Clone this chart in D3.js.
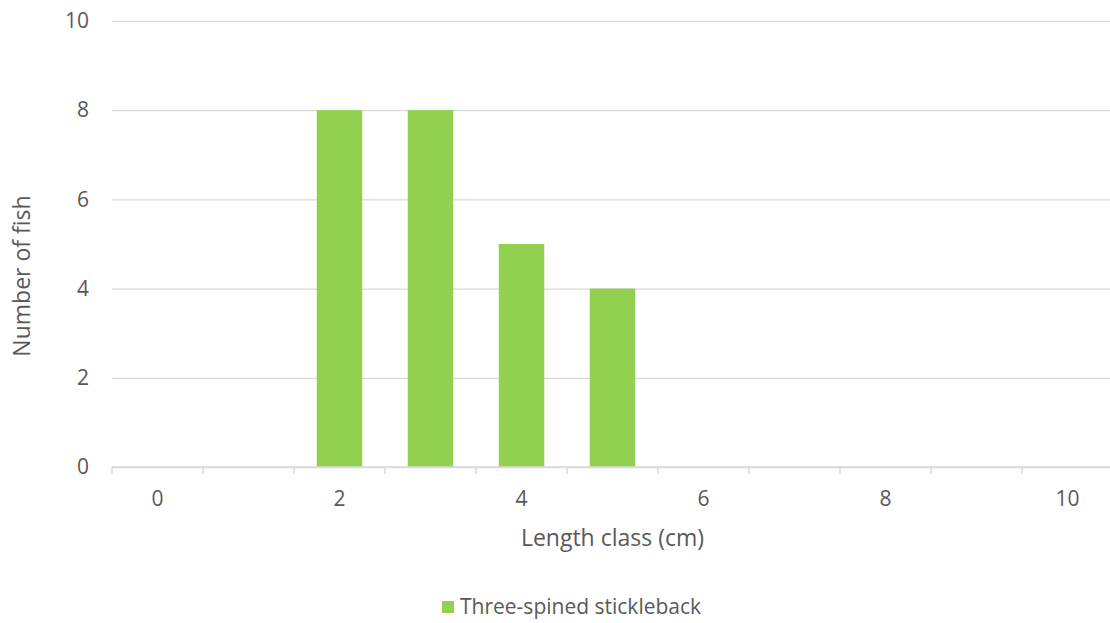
<!DOCTYPE html>
<html>
<head>
<meta charset="utf-8">
<script src="https://cdn.jsdelivr.net/npm/d3@7"></script>
<style>
  html, body { margin: 0; padding: 0; background: #fff; }
  svg { display: block; }
  text { font-family: "Open Sans", "Noto Sans", sans-serif; fill: #595959; }
</style>
</head>
<body>
<svg id="chart" width="1110" height="623"></svg>
<script>
// Length classes (cm) and counts of fish in each class
const lengthClasses = [0, 1, 2, 3, 4, 5, 6, 7, 8, 9, 10];
const fishCounts = [0, 0, 8, 8, 5, 4, 0, 0, 0, 0, 0];
const yTicks = [0, 2, 4, 6, 8, 10];
const xLabelClasses = [0, 2, 4, 6, 8, 10];
const seriesName = "Three-spined stickleback";
const xTitle = "Length class (cm)";
const yTitle = "Number of fish";

const barColor = "#92D050";
const gridColor = "#d9d9d9";

const svg = d3.select("#chart");
const plot = { left: 112, right: 1113, top: 21, bottom: 467 };

const x = d3.scaleBand()
  .domain(lengthClasses)
  .range([plot.left, plot.right])
  .paddingInner(0.5)
  .paddingOuter(0.25);

const y = d3.scaleLinear()
  .domain([0, 10])
  .range([plot.bottom, plot.top]);

// Horizontal gridlines and y labels
const yAxis = d3.axisLeft(y)
  .tickValues(yTicks)
  .tickSize(-(plot.right - plot.left))
  .tickPadding(23)
  .tickFormat(d3.format("d"));

const gy = svg.append("g")
  .attr("transform", `translate(${plot.left},0)`)
  .call(yAxis);
gy.attr("font-family", null).attr("font-size", null);
gy.select(".domain").remove();
gy.selectAll(".tick line").attr("stroke", gridColor).attr("stroke-width", 1.3);
gy.selectAll(".tick text").attr("font-size", 21).style("fill", "#595959");

// Bars
svg.append("g")
  .selectAll("rect")
  .data(lengthClasses.map((c, i) => ({ c, v: fishCounts[i] })))
  .join("rect")
  .attr("x", d => x(d.c))
  .attr("width", x.bandwidth())
  .attr("y", d => y(d.v))
  .attr("height", d => y(0) - y(d.v))
  .attr("fill", barColor);

// Category axis: baseline, boundary ticks, labels on every other class
const step = x.step();
const boundaries = lengthClasses.map(c => x(c) - x.paddingOuter() * step);
boundaries.push(plot.right);

const gx = svg.append("g");
gx.append("line")
  .attr("x1", plot.left).attr("x2", plot.right)
  .attr("y1", y(0)).attr("y2", y(0))
  .attr("stroke", gridColor).attr("stroke-width", 1.5);
gx.selectAll("line.tick")
  .data(boundaries)
  .join("line")
  .attr("class", "tick")
  .attr("x1", d => d).attr("x2", d => d)
  .attr("y1", y(0)).attr("y2", y(0) + 7)
  .attr("stroke", gridColor).attr("stroke-width", 1.5);
gx.selectAll("text")
  .data(xLabelClasses)
  .join("text")
  .attr("x", d => x(d) + x.bandwidth() / 2)
  .attr("y", y(0) + 39)
  .attr("text-anchor", "middle")
  .attr("font-size", 21)
  .text(d => d);

// Axis titles
svg.append("text")
  .attr("x", (plot.left + plot.right) / 2)
  .attr("y", 546)
  .attr("text-anchor", "middle")
  .attr("font-size", 23)
  .text(xTitle);

svg.append("text")
  .attr("transform", `translate(30,${(plot.top + plot.bottom) / 2 + 32}) rotate(-90)`)
  .attr("text-anchor", "middle")
  .attr("font-size", 23)
  .text(yTitle);

// Legend
const legend = svg.append("g").attr("transform", "translate(442,601)");
legend.append("rect").attr("width", 12).attr("height", 12).attr("fill", barColor);
legend.append("text")
  .attr("x", 18).attr("y", 13)
  .attr("font-size", 21)
  .text(seriesName);
</script>
</body>
</html>
